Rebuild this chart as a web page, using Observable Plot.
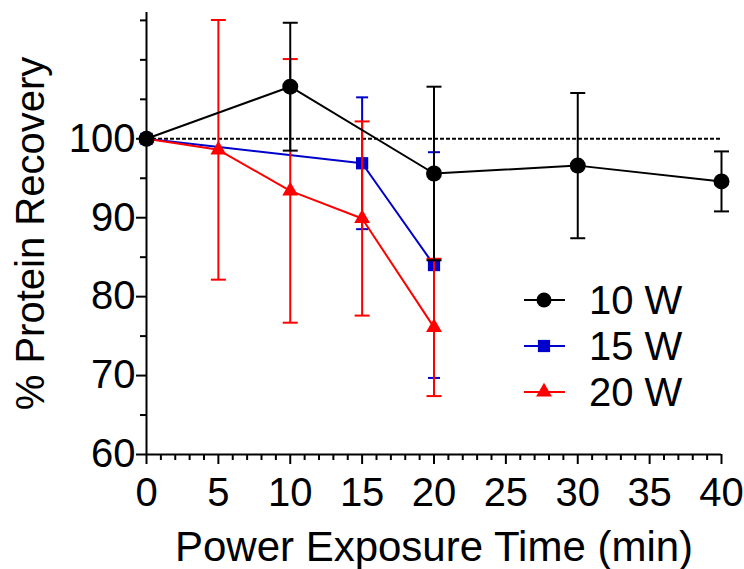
<!DOCTYPE html>
<html>
<head>
<meta charset="utf-8">
<script src="https://cdn.jsdelivr.net/npm/d3@7"></script>
<script src="https://cdn.jsdelivr.net/npm/@observablehq/plot@0.6"></script>
<style>
  body { margin: 0; background: white; }
  #wrap { position: relative; width: 744px; height: 569px; }
  #legend { position: absolute; left: 0; top: 0; pointer-events: none; }
</style>
</head>
<body>
<div id="wrap"></div>
<script>
// ---- data ----
const seriesNames = ["10 W", "15 W", "20 W"];
const seriesColors = ["#000000", "#0000CC", "#FF0000"];

const time10 = [0, 10, 20, 30, 40];
const mean10 = [100, 106.6, 95.6, 96.6, 94.6];
const sd10   = [0, 8.1, 11.0, 9.2, 3.8];

const time15 = [0, 15, 20];
const mean15 = [100, 96.9, 84.0];
const sd15   = [0, 8.35, 14.3];

const time20 = [0, 5, 10, 15, 20];
const mean20 = [100, 98.6, 93.4, 89.9, 76.1];
const sd20   = [0, 16.45, 16.7, 12.3, 8.7];

const xTicks = [0, 5, 10, 15, 20, 25, 30, 35, 40];
const xMinorTicks = d3.range(0, 41).filter(v => v % 5 !== 0);
const yTicks = [60, 70, 80, 90, 100];
const yMinorTicks = [65, 75, 85, 95, 105, 110, 115];
const referenceLine = [100];

const xTitle = "Power Exposure Time (min)";
const yTitle = "% Protein Recovery";

// ---- build tables ----
function table(times, means, sds, name) {
  return times.map((t, i) => ({t, m: means[i], sd: sds[i], name}));
}
const d10 = table(time10, mean10, sd10, seriesNames[0]);
const d15 = table(time15, mean15, sd15, seriesNames[1]);
const d20 = table(time20, mean20, sd20, seriesNames[2]);

const capSymbol = {
  draw(context, size) {
    const h = Math.sqrt(size / Math.PI);
    context.moveTo(-h, 0);
    context.lineTo(h, 0);
  }
};

function seriesMarks(data, color, symbol, r, capR) {
  const withErr = data.filter(d => d.sd > 0);
  return [
    Plot.line(data, {x: "t", y: "m", stroke: color, strokeWidth: 2}),
    Plot.ruleX(withErr, {x: "t", y1: d => d.m - d.sd, y2: d => d.m + d.sd, stroke: color, strokeWidth: 2}),
    Plot.dot(withErr, {x: "t", y: d => d.m + d.sd, symbol: capSymbol, r: capR, stroke: color, fill: "none", strokeWidth: 2}),
    Plot.dot(withErr, {x: "t", y: d => d.m - d.sd, symbol: capSymbol, r: capR, stroke: color, fill: "none", strokeWidth: 2}),
    Plot.dot(data, {x: "t", y: "m", symbol, r, fill: color, stroke: "none"})
  ];
}

const FONT = "'Liberation Sans', Arial, Helvetica, sans-serif";

const chart = Plot.plot({
  width: 744,
  height: 569,
  marginLeft: 146,
  marginRight: 23,
  marginTop: 12,
  marginBottom: 115,
  x: {domain: [0, 40]},
  y: {domain: [60, 116]},
  style: {fontFamily: FONT, fontSize: "40px", color: "black", background: "white", overflow: "visible"},
  marks: [
    Plot.ruleY(referenceLine, {stroke: "black", strokeWidth: 2, strokeDasharray: "4,2"}),
    ...seriesMarks(d15, seriesColors[1], "square", 6.9, 6),
    ...seriesMarks(d20, seriesColors[2], "triangle", 5.9, 7.5),
    ...seriesMarks(d10, seriesColors[0], "circle", 8, 7.5),
    Plot.ruleX([0], {stroke: "black", strokeWidth: 2}),
    Plot.ruleY([60], {stroke: "black", strokeWidth: 2}),
    Plot.axisY({ticks: yTicks, tickSize: 10, tickPadding: 1, fontSize: 40, label: null, strokeWidth: 2, tickFormat: d => String(d)}),
    Plot.axisY({ticks: yMinorTicks, tickSize: 6, label: null, strokeWidth: 2, tickFormat: () => ""}),
    Plot.axisX({ticks: xTicks, tickSize: 10, tickPadding: 13, fontSize: 40, label: null, strokeWidth: 2, tickFormat: d => String(d)}),
    Plot.axisX({ticks: xMinorTicks, tickSize: 6, label: null, strokeWidth: 2, tickFormat: () => ""}),
    Plot.text([xTitle], {frameAnchor: "bottom", textAnchor: "middle", dy: 106, lineAnchor: "bottom", fontSize: 42, fill: "black"}),
    Plot.text([yTitle], {frameAnchor: "left", textAnchor: "middle", rotate: -90, lineAnchor: "bottom", dx: -103, fontSize: 40, fill: "black"})
  ]
});

const wrap = document.getElementById("wrap");
wrap.appendChild(chart);

// ---- legend (inside plot area, as in reference) ----
const legendSymbols = [d3.symbolCircle, d3.symbolSquare, d3.symbolTriangle];
const legendSizes = [Math.PI * 7.5 * 7.5, Math.PI * 6.9 * 6.9, Math.PI * 5.9 * 5.9];
const legend = d3.select(wrap).append("svg")
  .attr("id", "legend").attr("width", 744).attr("height", 569);
const rows = legend.selectAll("g").data(seriesNames).join("g")
  .attr("transform", (d, i) => `translate(524, ${300 + i * 46})`);
rows.append("line").attr("x1", 0).attr("x2", 41).attr("y1", 0).attr("y2", 0)
  .attr("stroke", (d, i) => seriesColors[i]).attr("stroke-width", 2);
rows.append("path")
  .attr("transform", "translate(20,0)")
  .attr("d", (d, i) => d3.symbol(legendSymbols[i], legendSizes[i])())
  .attr("fill", (d, i) => seriesColors[i]);
rows.append("text").attr("x", 65).attr("y", 0).attr("dy", "0.35em")
  .attr("font-family", FONT).attr("font-size", 40).attr("fill", "black")
  .text(d => d);
</script>
</body>
</html>
